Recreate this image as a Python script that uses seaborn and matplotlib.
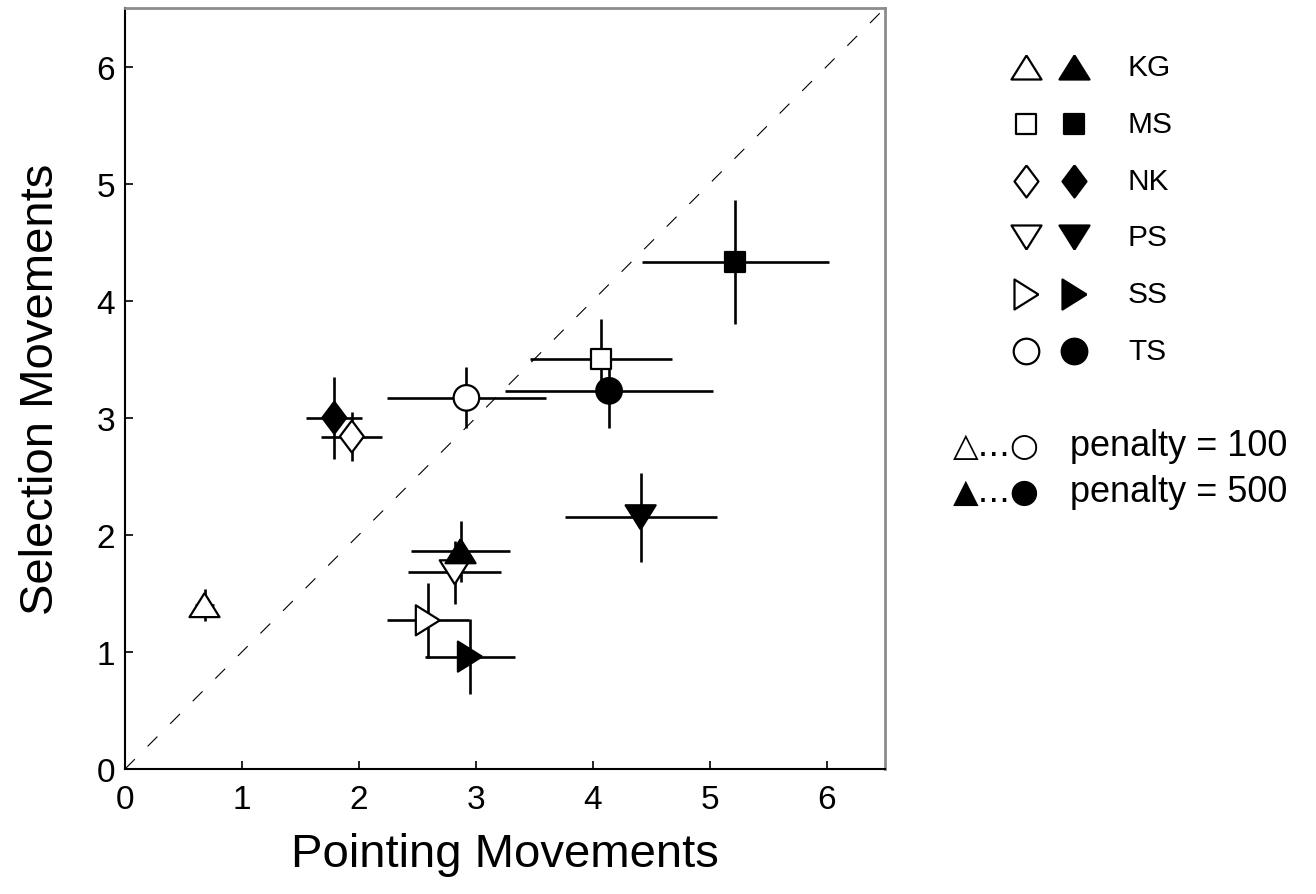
import numpy as np
import pandas as pd
import matplotlib
matplotlib.use('Agg')
import matplotlib.pyplot as plt
import seaborn as sns

# values (mean +/- error)
subjects = ['KG', 'MS', 'NK', 'PS', 'SS', 'TS']

point_100 = [0.68, 4.07, 1.94, 2.82, 2.59, 2.92]
select_100 = [1.40, 3.50, 2.84, 1.68, 1.27, 3.17]
point_err_100 = [0.08, 0.61, 0.26, 0.40, 0.35, 0.68]
select_err_100 = [0.14, 0.34, 0.21, 0.27, 0.32, 0.26]

point_500 = [2.87, 5.22, 1.79, 4.41, 2.95, 4.14]
select_500 = [1.86, 4.33, 3.00, 2.15, 0.96, 3.23]
point_err_500 = [0.42, 0.80, 0.24, 0.65, 0.385, 0.89]
select_err_500 = [0.26, 0.53, 0.35, 0.38, 0.32, 0.32]

penalty_symbols = ['\u25b3...\u25cb', '\u25b2...\u25cf']
penalty_labels = ['penalty = 100', 'penalty = 500']

df = pd.concat([
    pd.DataFrame({'subject': subjects, 'penalty': 100, 'pointing': point_100,
                  'selection': select_100, 'xerr': point_err_100, 'yerr': select_err_100}),
    pd.DataFrame({'subject': subjects, 'penalty': 500, 'pointing': point_500,
                  'selection': select_500, 'xerr': point_err_500, 'yerr': select_err_500}),
], ignore_index=True)

sns.set_theme(style='white')
plt.rcParams['font.family'] = ['Liberation Sans', 'DejaVu Sans']
plt.rcParams['lines.scale_dashes'] = False
plt.rcParams['text.color'] = 'black'
plt.rcParams['axes.labelcolor'] = 'black'
plt.rcParams['xtick.color'] = 'black'
plt.rcParams['ytick.color'] = 'black'

tri_up = [(0, 0.8), (-1, -0.8), (1, -0.8), (0, 0.8)]
tri_down = [(0, -0.8), (-1, 0.8), (1, 0.8), (0, -0.8)]
tri_right = [(0.8, 0), (-0.8, 1), (-0.8, -1), (0.8, 0)]
diamond = [(0, 1), (0.75, 0), (0, -1), (-0.75, 0), (0, 1)]
shapes = {'KG': tri_up, 'MS': 's', 'NK': diamond, 'PS': tri_down, 'SS': tri_right, 'TS': 'o'}
areas = {'KG': 467, 'MS': 207, 'NK': 530, 'PS': 467, 'SS': 467, 'TS': 339}

fig = plt.figure(figsize=(13.16, 8.95), dpi=100)
ax = fig.add_axes([125 / 1316, 125 / 895, 760 / 1316, 761 / 895])

ax.plot([0, 6.5], [0, 6.5], color='black', lw=0.8, ls=(0, (10, 13)), zorder=1)
ax.errorbar(df['pointing'], df['selection'], xerr=df['xerr'], yerr=df['yerr'],
            fmt='none', ecolor='black', elinewidth=1.9, capsize=0, zorder=2)

for pen, face in [(100, 'white'), (500, 'black')]:
    sub = df[df['penalty'] == pen]
    sns.scatterplot(data=sub, x='pointing', y='selection', style='subject',
                    markers=shapes, size='subject', sizes=areas, color=face,
                    edgecolor='black', linewidth=1.6, legend=False, ax=ax, zorder=3)

ax.set_xlim(0, 6.5)
ax.set_ylim(0, 6.5)
ax.set_xticks(range(0, 7))
ax.set_yticks(range(0, 7))
ax.tick_params(direction='in', length=6, width=1.2, labelsize=24,
               bottom=True, left=True, top=False, right=False)
ax.tick_params(axis='x', pad=11)
ax.tick_params(axis='y', pad=7)
for side in ['left', 'bottom']:
    ax.spines[side].set_color('black')
    ax.spines[side].set_linewidth(1.5)
for side in ['top', 'right']:
    ax.spines[side].set_color('#8c8c8c')
    ax.spines[side].set_linewidth(2)
ax.set_xlabel('Pointing Movements', fontsize=34, labelpad=12)
ax.set_ylabel('Selection Movements', fontsize=34, labelpad=24)

# legend drawn in figure pixel space
lg = fig.add_axes([0, 0, 1, 1])
lg.set_xlim(0, 1316)
lg.set_ylim(895, 0)
lg.axis('off')
lg.patch.set_alpha(0)
for i, s in enumerate(subjects):
    yy = 68 + 56.8 * i
    lg.scatter([1026], [yy], marker=shapes[s], s=areas[s], facecolor='white',
               edgecolor='black', linewidth=1.6)
    lg.scatter([1074], [yy], marker=shapes[s], s=areas[s], facecolor='black',
               edgecolor='black', linewidth=1.6)
    lg.text(1128, yy, s, fontsize=21.5, va='center', ha='left')
for i, (sym, t) in enumerate(zip(penalty_symbols, penalty_labels)):
    lg.text(953, 447 + 45 * i, sym, fontsize=24, va='center', ha='left',
            family=['DejaVu Sans'])
    lg.text(1070, 447 + 45 * i, t, fontsize=26, va='center', ha='left')

fig.savefig('out.png', dpi=100)
